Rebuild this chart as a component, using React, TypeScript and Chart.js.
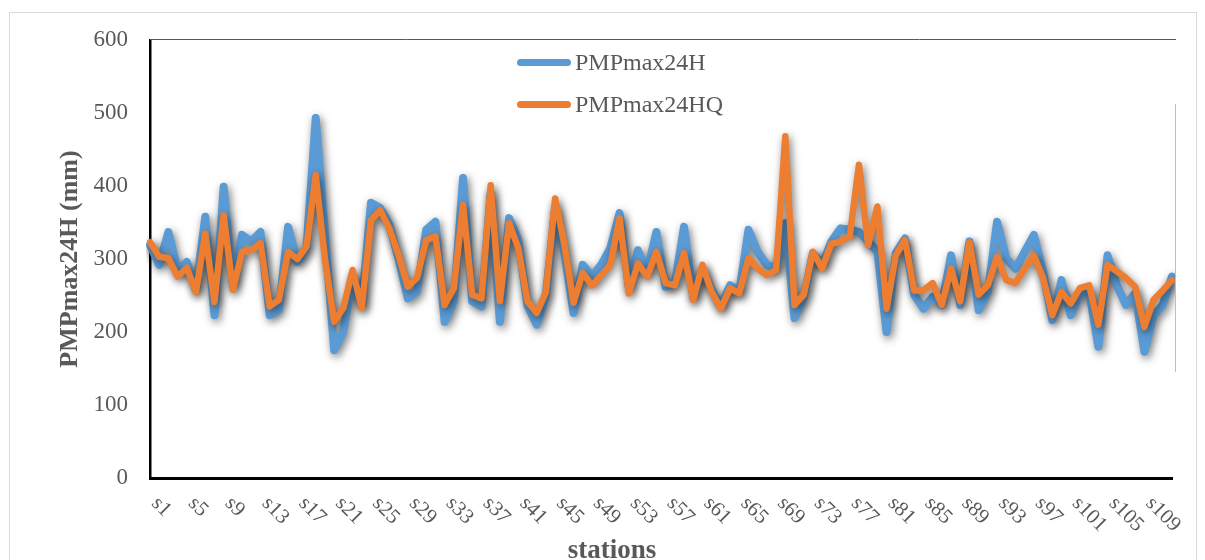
import React, { useEffect, useRef } from "react";
import { Chart, registerables } from "chart.js";

Chart.register(...registerables);

const stations: string[] = Array.from({ length: 112 }, (_, i) => `s${i + 1}`);

const pmp24H: number[] = [
  319, 292, 337, 285, 296, 258, 358, 223, 399, 265,
  333, 324, 337, 223, 230, 344, 296, 315, 493, 335,
  175, 200, 275, 236, 377, 370, 347, 300, 246, 255,
  340, 351, 214, 242, 411, 242, 235, 390, 214, 356,
  326, 236, 210, 250, 370, 310, 226, 292, 276, 292,
  315, 363, 262, 312, 283, 337, 262, 267, 344, 248,
  287, 258, 236, 264, 255, 340, 310, 292, 287, 349,
  219, 246, 308, 292, 324, 342, 340, 337, 324, 310,
  200, 308, 328, 251, 232, 248, 237, 305, 237, 324,
  230, 255, 351, 301, 287, 310, 333, 283, 216, 271,
  223, 253, 255, 180, 305, 264, 237, 253, 173, 223,
  237, 276,
];

const pmp24HQ: number[] = [
  323, 303, 301, 276, 288, 255, 335, 241, 360, 258,
  310, 312, 322, 235, 244, 310, 300, 317, 415, 300,
  214, 233, 285, 233, 353, 367, 342, 305, 262, 274,
  326, 331, 237, 260, 374, 251, 246, 401, 242, 349,
  315, 242, 226, 255, 383, 320, 240, 281, 264, 278,
  292, 356, 253, 294, 276, 310, 267, 264, 308, 244,
  292, 255, 232, 260, 253, 301, 287, 278, 285, 468,
  237, 251, 310, 287, 321, 324, 331, 429, 319, 372,
  232, 305, 326, 257, 257, 267, 237, 287, 242, 323,
  251, 264, 303, 271, 267, 287, 305, 274, 223, 255,
  239, 260, 264, 210, 292, 283, 274, 262, 207, 244,
  257, 271,
];

const seriesNames = ["PMPmax24H", "PMPmax24HQ"];
const seriesColors = ["#5B9BD5", "#ED7D31"];
const yTitle = "PMPmax24H (mm)";
const xTitle = "stations";
const labelStep = 4;

const SERIF = '"Liberation Serif", "Times New Roman", serif';
const TEXT = "#595959";

const decor = {
  id: "decor",
  beforeDatasetsDraw(chart: any) {
    const ctx = chart.ctx;
    ctx.save();
    ctx.shadowColor = "rgba(0,0,0,0.55)";
    ctx.shadowBlur = 8;
    ctx.shadowOffsetX = 2;
    ctx.shadowOffsetY = 3;
  },
  afterDatasetsDraw(chart: any) {
    chart.ctx.restore();
  },
  afterDraw(chart: any) {
    const { ctx, chartArea } = chart;
    const x = chart.scales.x;
    ctx.save();
    ctx.strokeStyle = "#595959";
    ctx.lineWidth = 1;
    ctx.beginPath();
    ctx.moveTo(chartArea.left, chartArea.top - 0.5);
    ctx.lineTo(chartArea.right + 4, chartArea.top - 0.5);
    ctx.stroke();
    ctx.strokeStyle = "#BFBFBF";
    ctx.beginPath();
    ctx.moveTo(chartArea.right + 3.5, 104);
    ctx.lineTo(chartArea.right + 3.5, 372);
    ctx.stroke();

    ctx.font = `21px ${SERIF}`;
    ctx.fillStyle = TEXT;
    ctx.textAlign = "left";
    ctx.textBaseline = "top";
    for (let i = 0; i < stations.length; i += labelStep) {
      const px = x.getPixelForValue(i);
      ctx.save();
      ctx.translate(px + 12, chartArea.bottom + 15);
      ctx.rotate(Math.PI / 4);
      ctx.fillText(stations[i], 0, 0);
      ctx.restore();
    }
    ctx.font = `bold 27px ${SERIF}`;
    ctx.textAlign = "center";
    ctx.textBaseline = "alphabetic";
    ctx.fillText(xTitle, 612, 558);
    ctx.restore();
  },
};

export default function App() {
  const ref = useRef<HTMLCanvasElement | null>(null);

  useEffect(() => {
    if (!ref.current) return;
    const chart = new Chart(ref.current, {
      type: "line",
      data: {
        labels: stations,
        datasets: [
          {
            label: seriesNames[0],
            data: pmp24H,
            borderColor: seriesColors[0],
            backgroundColor: seriesColors[0],
            borderWidth: 8,
            pointRadius: 0,
            borderJoinStyle: "round",
            borderCapStyle: "round",
            tension: 0,
            order: 1,
          },
          {
            label: seriesNames[1],
            data: pmp24HQ,
            borderColor: seriesColors[1],
            backgroundColor: seriesColors[1],
            borderWidth: 6.5,
            pointRadius: 0,
            borderJoinStyle: "round",
            borderCapStyle: "round",
            tension: 0,
            order: 0,
          },
        ],
      },
      options: {
        responsive: false,
        animation: false,
        events: [],
        layout: { padding: { left: 0, top: 40, right: 33, bottom: 0 } },
        plugins: { legend: { display: false }, tooltip: { enabled: false } },
        scales: {
          x: {
            type: "category",
            offset: false,
            grid: { display: false, drawTicks: false },
            border: { display: true, color: "#000000", width: 3 },
            ticks: { display: false, autoSkip: false },
            afterFit: (s: any) => {
              s.height = 87;
            },
          },
          y: {
            min: 0,
            max: 600,
            grid: { display: false, drawTicks: false },
            border: { display: true, color: "#000000", width: 2.5 },
            ticks: {
              stepSize: 100,
              padding: 22,
              color: TEXT,
              font: { family: SERIF, size: 23 },
            },
            title: {
              display: true,
              text: yTitle,
              color: TEXT,
              font: { family: SERIF, size: 26, weight: "bold", lineHeight: 1.2 },
              padding: { top: 55, bottom: 0 },
            },
            afterFit: (s: any) => {
              s.width = 150;
            },
          },
        },
      },
      plugins: [decor],
    });
    return () => chart.destroy();
  }, []);

  const legendRow = (i: number, cy: number) => (
    <div key={i}>
      <div
        style={{
          position: "absolute",
          left: 517,
          top: cy - 3.5,
          width: 54,
          height: 7,
          borderRadius: 4,
          background: seriesColors[i],
        }}
      />
      <div
        style={{
          position: "absolute",
          left: 575,
          top: cy - 15,
          height: 30,
          lineHeight: "30px",
          fontFamily: SERIF,
          fontSize: 24,
          color: TEXT,
          whiteSpace: "nowrap",
        }}
      >
        {seriesNames[i]}
      </div>
    </div>
  );

  return (
    <div
      style={{
        position: "fixed",
        left: 0,
        top: 0,
        width: 1205,
        height: 560,
        overflow: "hidden",
        background: "#ffffff",
      }}
    >
      <div
        style={{
          position: "absolute",
          left: 9,
          top: 12,
          width: 1186,
          height: 600,
          border: "1px solid #D9D9D9",
        }}
      />
      <canvas
        ref={ref}
        width={1205}
        height={565}
        style={{ position: "absolute", left: 0, top: 0, display: "block" }}
      />
      {legendRow(0, 62)}
      {legendRow(1, 104)}
    </div>
  );
}
